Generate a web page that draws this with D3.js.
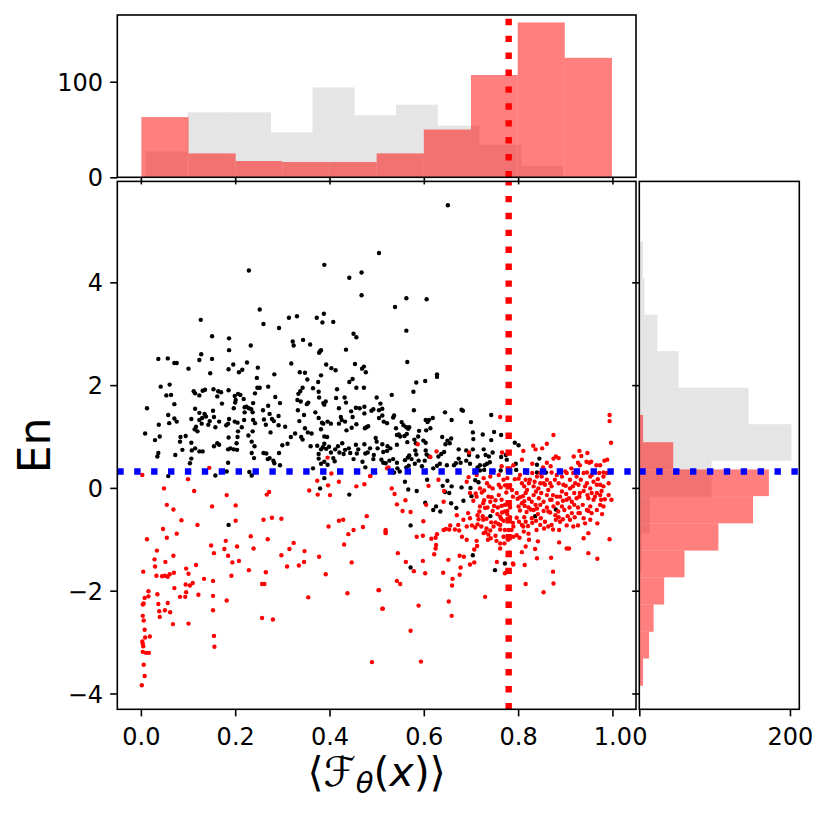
<!DOCTYPE html>
<html><head><meta charset="utf-8">
<script src="https://cdn.jsdelivr.net/npm/d3@7"></script>
<style>body{margin:0;background:#fff}svg{display:block}text{font-family:"DejaVu Sans",sans-serif}</style>
</head><body><svg id="c" width="830" height="816"></svg>
<script>
// ---------- data ----------
const blackPoints = [
[0.505,4.57],[0.389,4.34],[0.468,4.19],[0.442,4.09],[0.229,4.23],[0.468,3.75],[0.252,3.47],[0.127,3.27],[0.260,3.19],[0.293,3.11],[0.314,3.31],[0.331,3.34],[0.373,3.31],[0.388,3.39],[0.385,3.22],[0.408,3.23],[0.451,3.00],[0.457,2.93],[0.151,2.95],[0.187,2.91],[0.233,2.77],[0.322,2.85],[0.324,2.77],[0.344,2.88],[0.359,2.79],[0.435,2.69],[0.187,2.68],[0.380,2.66],[0.382,2.68],[0.378,2.63],[0.037,2.51],[0.057,2.52],[0.071,2.43],[0.076,2.43],[0.128,2.60],[0.124,2.49],[0.151,2.51],[0.101,2.32],[0.186,2.31],[0.196,2.40],[0.208,2.25],[0.215,2.30],[0.225,2.44],[0.248,2.34],[0.319,2.42],[0.393,2.40],[0.404,2.33],[0.413,2.29],[0.454,2.41],[0.469,2.32],[0.473,2.36],[0.477,2.25],[0.283,2.21],[0.337,2.25],[0.348,2.24],[0.353,2.11],[0.382,2.19],[0.246,2.14],[0.147,2.23],[0.042,1.97],[0.061,2.01],[0.064,1.81],[0.071,1.63],[0.112,1.88],[0.115,1.84],[0.124,1.80],[0.131,1.89],[0.136,1.91],[0.154,1.92],[0.164,1.88],[0.170,1.86],[0.162,1.78],[0.186,1.90],[0.199,1.79],[0.206,1.83],[0.211,1.81],[0.201,1.71],[0.200,1.66],[0.218,1.73],[0.220,1.57],[0.242,1.84],[0.247,1.95],[0.252,1.95],[0.270,1.97],[0.285,1.77],[0.295,1.65],[0.334,1.83],[0.338,1.88],[0.343,1.95],[0.365,1.94],[0.355,1.66],[0.352,1.63],[0.332,1.71],[0.339,1.68],[0.333,1.51],[0.376,2.06],[0.377,1.87],[0.378,1.76],[0.387,1.65],[0.389,1.62],[0.392,1.68],[0.416,1.92],[0.414,1.75],[0.435,1.66],[0.432,1.76],[0.442,2.06],[0.449,2.12],[0.457,1.95],[0.473,1.95],[0.500,1.76],[0.508,1.64],[0.013,1.55],[0.058,1.42],[0.071,1.35],[0.076,1.29],[0.060,1.26],[0.038,1.23],[0.054,1.80],[0.107,1.34],[0.115,1.54],[0.124,1.46],[0.124,1.32],[0.130,1.36],[0.135,1.44],[0.138,1.39],[0.129,1.25],[0.117,1.19],[0.114,1.14],[0.120,1.10],[0.143,1.23],[0.146,1.30],[0.153,1.50],[0.155,1.38],[0.158,1.18],[0.166,1.29],[0.172,1.64],[0.181,1.22],[0.187,1.34],[0.185,1.25],[0.197,1.55],[0.199,1.29],[0.205,1.27],[0.219,1.32],[0.214,1.18],[0.220,1.47],[0.224,1.58],[0.229,1.55],[0.234,1.53],[0.238,1.65],[0.237,1.47],[0.238,1.32],[0.242,1.26],[0.237,1.10],[0.259,1.51],[0.261,1.33],[0.265,1.23],[0.270,1.60],[0.273,1.44],[0.278,1.34],[0.275,1.08],[0.282,1.30],[0.292,1.40],[0.292,1.22],[0.306,1.19],[0.318,0.99],[0.327,1.06],[0.336,1.30],[0.346,1.42],[0.348,1.16],[0.354,1.08],[0.362,1.06],[0.340,0.99],[0.343,0.94],[0.370,1.47],[0.377,1.36],[0.384,1.27],[0.387,1.25],[0.396,1.29],[0.403,1.25],[0.382,1.14],[0.389,1.00],[0.395,0.99],[0.389,0.86],[0.420,1.55],[0.424,1.38],[0.426,1.32],[0.433,1.29],[0.436,1.12],[0.420,1.25],[0.446,1.49],[0.449,1.38],[0.456,1.56],[0.464,1.55],[0.474,1.58],[0.474,1.45],[0.447,1.17],[0.457,1.24],[0.475,1.16],[0.478,1.18],[0.482,1.20],[0.489,1.50],[0.493,1.53],[0.505,1.51],[0.505,1.36],[0.512,1.41],[0.515,1.29],[0.522,1.26],[0.009,1.06],[0.030,0.93],[0.040,1.00],[0.084,0.99],[0.083,0.90],[0.095,1.01],[0.088,0.74],[0.107,0.88],[0.108,0.73],[0.115,0.77],[0.124,0.71],[0.131,0.71],[0.107,0.57],[0.104,0.48],[0.073,0.64],[0.037,0.68],[0.035,0.61],[0.155,0.81],[0.162,0.87],[0.166,0.84],[0.186,0.98],[0.185,0.75],[0.205,0.99],[0.206,1.10],[0.203,0.87],[0.190,0.77],[0.197,0.75],[0.204,0.74],[0.228,1.02],[0.235,0.90],[0.241,0.81],[0.235,0.68],[0.240,0.58],[0.260,0.68],[0.266,0.67],[0.269,0.56],[0.273,0.58],[0.281,0.53],[0.283,0.48],[0.293,0.68],[0.300,0.83],[0.311,0.86],[0.185,0.49],[0.295,0.44],[0.360,0.81],[0.374,0.82],[0.377,0.66],[0.382,0.75],[0.386,0.79],[0.393,0.76],[0.399,0.80],[0.403,0.69],[0.377,0.57],[0.382,0.47],[0.389,0.51],[0.396,0.45],[0.408,0.58],[0.411,0.52],[0.412,0.75],[0.418,0.81],[0.421,0.69],[0.430,0.66],[0.427,0.87],[0.433,0.74],[0.441,0.77],[0.444,0.68],[0.451,0.56],[0.456,0.84],[0.458,0.67],[0.461,0.75],[0.474,0.85],[0.476,0.67],[0.470,0.51],[0.481,0.69],[0.486,0.77],[0.494,0.64],[0.498,0.97],[0.500,0.90],[0.502,0.77],[0.512,0.85],[0.514,0.70],[0.493,0.56],[0.510,0.55],[0.514,0.49],[0.519,0.48],[0.476,0.40],
[0.058,0.23],[0.158,0.24],[0.235,0.24],[0.182,0.32],[0.230,0.31],[0.389,0.19],[0.380,-0.01],[0.442,-0.13],[0.186,-0.72],[0.365,0.38],
[0.651,5.50],[0.563,3.69],[0.606,3.67],[0.539,3.52],[0.563,3.06],[0.565,2.45],[0.584,2.05],[0.603,2.08],[0.628,2.21],[0.628,2.16],[0.578,1.87],[0.532,1.81],[0.512,1.54],[0.535,1.37],[0.537,1.41],[0.541,1.16],[0.543,1.03],[0.547,1.04],[0.550,1.00],[0.543,0.84],[0.553,1.28],[0.557,1.22],[0.563,1.18],[0.569,1.18],[0.567,1.15],[0.579,1.51],[0.564,1.05],[0.565,0.89],[0.559,1.01],[0.590,1.11],[0.588,1.00],[0.580,0.94],[0.583,0.87],[0.599,0.92],[0.604,0.88],[0.604,1.32],[0.611,1.32],[0.619,1.36],[0.614,1.16],[0.608,1.28],[0.605,1.12],[0.645,1.47],[0.659,1.32],[0.680,1.52],[0.683,1.50],[0.700,1.28],[0.704,1.08],[0.705,0.95],[0.725,1.04],[0.743,1.42],[0.749,1.09],[0.743,0.93],[0.764,1.03],[0.639,0.99],[0.650,0.92],[0.658,0.96],[0.655,0.87],[0.646,0.85],[0.529,0.77],[0.522,0.72],[0.523,0.81],[0.527,0.53],[0.535,0.56],[0.560,0.54],[0.569,0.63],[0.566,0.59],[0.574,0.56],[0.582,0.73],[0.584,0.65],[0.589,0.53],[0.581,0.47],[0.604,0.73],[0.606,0.65],[0.611,0.61],[0.602,0.53],[0.631,0.61],[0.637,0.66],[0.643,0.70],[0.634,0.47],[0.620,0.38],[0.628,0.43],[0.664,0.44],[0.668,0.48],[0.674,0.75],[0.674,0.57],[0.678,0.49],[0.690,0.73],[0.696,0.64],[0.690,0.53],[0.698,0.47],[0.704,0.75],[0.714,0.61],[0.727,0.75],[0.731,0.64],[0.738,0.61],[0.734,0.47],[0.740,0.50],[0.729,0.44],[0.746,0.69],[0.764,0.60],[0.774,0.64],[0.776,0.55],[0.793,0.88],[0.801,0.83],[0.795,0.47],[0.845,0.57],[0.543,0.49],[0.544,0.38],[0.563,0.40],[0.568,0.43],[0.596,0.42],[0.714,0.40],[0.719,0.44],[0.649,0.44],[0.840,0.45],
[0.560,0.12],[0.567,-0.03],[0.585,-0.06],[0.603,-0.29],[0.607,0.16],[0.620,-0.43],[0.635,-0.46],[0.626,-0.36],[0.640,0.04],[0.645,-0.08],[0.650,0.14],[0.659,0.03],[0.654,-0.10],[0.658,-0.30],[0.669,-0.39],[0.680,0.01],[0.684,-0.25],[0.699,0.00],[0.701,-0.16],[0.709,0.15],[0.716,0.11],[0.572,-0.73],[0.572,-1.55],[0.704,-1.31],[0.751,-1.60],[0.772,-1.47],[0.741,-0.55],[0.836,-0.55],[0.880,-0.42],[0.796,0.35],[0.815,0.34],[0.840,0.30],[0.859,0.30],[0.763,0.34],[0.748,0.33],[0.719,0.34],[0.728,0.35],[0.495,0.32],[0.549,0.32],[0.537,0.30]
];
const redPoints = [
[0.396,0.59],[0.145,0.39],
[0.003,0.25],[0.100,0.17],[0.049,-0.01],[0.113,-0.06],[0.182,-0.14],[0.267,-0.13],[0.272,-0.08],[0.055,-0.33],[0.069,-0.42],[0.151,-0.36],[0.201,-0.34],[0.086,-0.63],[0.120,-0.72],[0.201,-0.64],[0.260,-0.62],[0.278,-0.58],[0.298,-0.60],[0.047,-0.80],[0.055,-0.97],[0.076,-0.89],[0.013,-1.00],[0.149,-1.12],[0.180,-1.03],[0.177,-1.19],[0.204,-1.14],[0.155,-1.27],[0.185,-1.32],[0.194,-1.45],[0.208,-1.42],[0.233,-0.94],[0.239,-1.18],[0.269,-1.00],[0.324,-1.07],[0.315,-1.19],[0.298,-1.31],[0.347,-1.23],[0.346,-1.44],[0.335,-1.51],[0.310,-1.53],[0.378,-1.34],[0.392,-1.68],[0.229,-1.60],[0.265,-1.64],[0.192,-1.71],[0.257,-1.87],[0.262,-1.87],[0.355,-2.13],[0.257,-2.53],[0.280,-2.56],[0.034,-1.22],[0.029,-1.39],[0.052,-1.44],[0.030,-1.53],[0.069,-1.32],[0.033,-1.71],[0.045,-1.72],[0.051,-1.71],[0.057,-1.73],[0.061,-1.68],[0.070,-1.65],[0.005,-1.63],[0.096,-1.57],[0.101,-1.67],[0.117,-1.50],[0.134,-1.77],[0.153,-1.81],[0.095,-1.88],[0.104,-1.90],[0.110,-1.85],[0.071,-1.95],[0.016,-2.01],[0.016,-2.11],[0.008,-2.14],[0.006,-2.25],[0.004,-2.27],[0.035,-2.07],[0.083,-2.12],[0.094,-2.12],[0.122,-2.08],[0.096,-2.03],[0.153,-2.10],[0.182,-2.19],[0.037,-2.26],[0.057,-2.24],[0.039,-2.40],[0.051,-2.38],[0.062,-2.42],[0.040,-2.51],[0.004,-2.49],[0.006,-2.58],[0.153,-2.38],[0.008,-2.76],[0.068,-2.65],[0.101,-2.64],[0.009,-2.91],[0.019,-2.89],[0.003,-2.99],[0.004,-3.03],[0.005,-3.08],[0.004,-3.19],[0.011,-3.21],[0.017,-3.21],[0.155,-2.88],[0.156,-3.09],[0.006,-3.44],[0.008,-3.66],[0.002,-3.84],[0.490,-3.39],[0.374,0.14],[0.357,-0.05],[0.375,-0.13],[0.397,0.05],[0.401,-0.14],[0.404,0.28],[0.420,0.12],[0.457,0.03],[0.474,0.07],[0.487,0.23],[0.479,-0.55],[0.420,-0.64],[0.429,-0.62],[0.398,-0.75],[0.440,-0.90],[0.451,-0.82],[0.471,-0.76],[0.431,-1.10],[0.447,-1.45],[0.438,-2.05],[0.504,-1.99],[0.512,-2.35],[0.519,-0.85],[0.522,0.38],
[0.762,1.38],[0.587,0.85],[0.627,0.71],[0.614,0.60],[0.696,0.69],[0.766,0.69],[0.525,0.40],[0.790,0.44],[0.811,0.72],[0.808,0.55],[0.832,0.82],[0.837,0.75],[0.851,0.77],[0.861,0.86],[0.875,1.03],[0.875,0.57],[0.880,0.61],[0.886,0.58],[0.830,0.47],[0.861,0.49],[0.918,0.61],[0.930,0.72],[0.934,0.62],[0.947,0.68],[0.927,0.49],[0.931,0.44],[0.945,0.51],[0.951,0.49],[0.955,0.51],[0.966,0.44],[0.974,0.44],[0.983,0.53],[0.989,0.55],[0.994,1.42],[0.994,1.30],[0.997,0.88],[0.913,0.38],[0.853,0.40],[0.869,0.42],[0.765,0.42],
[0.486,0.23],[0.532,-0.01],[0.538,-0.12],[0.543,-0.32],[0.555,-0.45],[0.561,-0.24],[0.572,-0.47],[0.610,0.04],[0.605,-0.33],[0.599,-0.65],[0.631,0.16],[0.643,-0.06],[0.642,-0.27],[0.642,-0.82],[0.654,-0.81],[0.656,-0.73],[0.647,-0.80],[0.628,-0.90],[0.625,-0.97],[0.616,-0.99],[0.585,-0.95],[0.598,-0.93],[0.519,-0.82],[0.519,-0.88],[0.545,-1.27],[0.562,-1.44],[0.598,-1.42],[0.579,-1.62],[0.603,-1.66],[0.543,-1.81],[0.550,-1.87],[0.626,-1.11],[0.625,-1.18],[0.622,-1.29],[0.641,-1.65],[0.652,-1.40],[0.666,-0.81],[0.675,-0.83],[0.681,-0.95],[0.691,-1.01],[0.676,-1.32],[0.685,-1.34],[0.678,-1.55],[0.676,-1.69],[0.661,-1.77],[0.660,-1.90],[0.698,-1.49],[0.707,-1.45],[0.505,-1.99],[0.513,-2.35],[0.589,-2.29],[0.653,-2.21],[0.659,-2.49],[0.572,-2.78],[0.594,-3.38],[0.730,-2.12],
[0.695,0.21],[0.691,0.12],[0.698,-0.10],[0.705,-0.25],[0.710,-0.11],[0.723,-0.09],[0.728,-0.05],[0.728,-0.24],[0.726,-0.30],[0.719,-0.36],[0.730,-0.39],[0.735,-0.38],[0.718,-0.46],[0.714,-0.53],[0.716,-0.61],[0.725,-0.55],[0.733,-0.60],[0.714,-0.71],[0.702,-0.73],[0.709,-0.77],[0.722,-0.75],[0.733,-0.79],[0.731,-0.86],[0.737,-0.91],[0.727,-0.88],[0.712,-1.03],[0.713,-1.13],[0.707,-1.20],[0.736,-1.01],[0.742,-0.98],[0.752,-0.93],[0.754,-1.03],[0.744,-0.18],[0.752,-0.24],[0.749,-0.35],[0.757,-0.38],[0.739,0.03],[0.746,-0.01],[0.759,0.06],[0.763,0.01],[0.746,-0.45],[0.756,-0.51],[0.762,-0.56],[0.766,-0.48],[0.743,-0.67],[0.752,-0.67],[0.758,-0.70],[0.764,-0.60],[0.769,-0.64],[0.778,-0.60],[0.762,-0.81],[0.772,-0.82],[0.780,-0.82],[0.762,-1.08],[0.771,-1.08],[0.762,-1.18],[0.765,-0.35],[0.772,-0.33],[0.783,-0.38],[0.775,-0.09],[0.787,-0.04],[0.789,-0.17],[0.777,0.19],[0.772,0.05],[0.783,0.05],[0.793,0.17],[0.772,-1.66],[0.777,-1.60],[0.789,-1.47],[0.782,-1.26],[0.777,-0.45],[0.777,-0.51],[0.783,-0.57],[0.789,-0.68],[0.790,-0.75],[0.755,-1.44],[0.741,-0.83],
[0.801,0.18],[0.816,0.16],[0.823,0.09],[0.813,0.03],[0.819,-0.04],[0.816,-0.10],[0.804,-0.18],[0.799,-0.21],[0.813,-0.26],[0.823,-0.21],[0.829,-0.27],[0.801,-0.36],[0.814,-0.35],[0.804,-0.44],[0.818,-0.47],[0.827,-0.42],[0.813,-0.57],[0.797,-0.58],[0.802,-0.66],[0.816,-0.66],[0.811,-0.75],[0.821,-0.74],[0.830,-0.68],[0.812,-0.85],[0.822,-0.89],[0.797,-0.92],[0.803,-0.97],[0.808,-1.25],[0.816,-1.14],[0.823,-1.01],[0.836,-1.19],[0.842,-1.04],[0.814,-1.50],[0.816,-1.87],[0.790,-1.49],[0.840,-1.37],[0.854,-2.03],[0.874,-1.63],[0.875,-1.86],[0.870,-1.36],[0.830,0.29],[0.840,0.22],[0.835,0.12],[0.833,0.03],[0.847,0.09],[0.838,-0.07],[0.849,-0.10],[0.844,-0.20],[0.854,-0.27],[0.837,-0.33],[0.833,-0.43],[0.842,-0.51],[0.854,-0.45],[0.861,-0.38],[0.848,-0.59],[0.838,-0.64],[0.847,-0.72],[0.855,-0.79],[0.839,-0.82],[0.864,-0.75],[0.850,0.22],[0.861,0.16],[0.857,0.06],[0.868,0.09],[0.864,-0.04],[0.878,0.16],[0.874,-0.14],[0.882,-0.17],[0.871,-0.23],[0.884,-0.30],[0.875,-0.36],[0.868,-0.48],[0.879,-0.53],[0.885,-0.46],[0.886,-0.57],[0.880,-0.62],[0.889,-0.66],[0.874,-0.81],[0.887,-0.82],[0.887,-1.06],[0.903,-1.18],[0.908,-1.18],[0.898,-0.43],[0.905,-0.55],[0.903,-0.73],[0.893,-0.07],[0.902,-0.12],[0.908,-0.20],[0.895,-0.25],[0.914,-0.27],[0.893,0.22],[0.903,0.29],[0.910,0.16],[0.901,0.04],[0.916,0.03],[0.924,0.22],[0.933,0.16],[0.939,0.29],[0.928,0.06],[0.946,0.09],[0.953,0.22],[0.960,0.12],[0.919,-0.10],[0.930,-0.17],[0.939,-0.06],[0.947,-0.14],[0.956,-0.10],[0.967,-0.10],[0.919,-0.33],[0.927,-0.38],[0.937,-0.33],[0.946,-0.43],[0.953,-0.36],[0.960,-0.23],[0.920,-0.57],[0.931,-0.49],[0.939,-0.59],[0.949,-0.45],[0.939,-0.98],[0.949,-0.88],[0.927,-0.73],[0.949,-1.27],[0.968,-1.38],[0.978,-0.51],[0.968,-0.69],[0.974,0.06],[0.969,0.17],[0.977,-0.06],[0.984,-0.22],[0.976,-0.23],[0.998,-0.23],[0.972,0.29],[0.981,0.30],[0.988,0.29],[0.995,0.30],[0.994,-1.00],
[0.804,0.25],[0.818,0.30],[0.847,0.29],[0.871,0.30],[0.882,0.25],[0.900,0.32],[0.917,0.29],[0.946,0.30],[0.956,0.25],[0.981,0.22],[0.808,0.09],[0.825,0.16],[0.843,-0.01],[0.854,0.09],[0.871,0.03],[0.886,0.09],[0.896,0.06],[0.910,-0.01],[0.921,0.09],[0.942,0.03],[0.953,-0.01],[0.967,0.06],[0.981,0.03],[0.992,0.09],[0.797,-0.10],[0.810,-0.16],[0.833,-0.14],[0.861,-0.14],[0.868,-0.23],[0.889,-0.17],[0.903,-0.23],[0.924,-0.20],[0.931,-0.10],[0.949,-0.20],[0.963,-0.17],[0.974,-0.14],[0.992,-0.14],[0.808,-0.30],[0.822,-0.38],[0.840,-0.40],[0.847,-0.33],[0.864,-0.46],[0.893,-0.36],[0.909,-0.38],[0.914,-0.49],[0.928,-0.49],[0.956,-0.49],[0.967,-0.43],[0.981,-0.36],[0.974,-0.33],[0.808,-0.72],[0.829,-0.59],[0.857,-0.66],[0.871,-0.72],[0.895,-0.61],[0.910,-0.62],[0.917,-0.75],[0.942,-0.69],[0.953,-0.62],[0.712,0.25],[0.727,0.19],[0.741,0.22],[0.759,0.25],[0.769,0.16],[0.734,0.09],[0.719,-0.01],[0.712,-0.17],[0.737,-0.17],[0.759,-0.14],[0.765,-0.23],[0.741,-0.27],[0.772,-0.46],[0.762,-0.72],[0.748,-0.75],[0.726,-0.62],[0.786,-0.82],[0.790,-0.95],[0.779,-1.01],[0.769,-0.95],[0.670,-0.53],[0.684,-0.62],[0.694,-0.49],[0.673,-0.72],[0.691,-0.75],[0.698,-0.59]
];
// top histogram (x of points)
const topGrayEdges  = [0.010,0.099,0.187,0.276,0.364,0.453,0.541,0.630,0.718,0.807,0.895];
const topGrayCounts = [27,68,68,47,94,65,76,54,34,12];
const topRedEdges   = [0.001,0.101,0.201,0.300,0.400,0.500,0.600,0.700,0.799,0.899,0.999];
const topRedCounts  = [63,25,17,16,16,25,50,107,162,125];
// right histogram (En of points)
const rightGrayEdges  = [-1.60,-0.89,-0.18,0.53,1.24,1.95,2.66,3.37,4.08,4.79,5.50];
const rightGrayCounts = [3,14,96,202,145,52,24,7,5,1];
const rightRedEdges   = [-3.85,-3.32,-2.80,-2.27,-1.74,-1.22,-0.69,-0.16,0.36,0.89,1.42];
const rightRedCounts  = [5,13,19,33,60,105,151,172,45,5];
// reference lines and ticks
const fidelityThreshold = 0.78;
const energyThreshold = 0.32;
const xTicks = [0.0,0.2,0.4,0.6,0.8,1.0];
const yTicks = [-4,-2,0,2,4];
const topHistTicks = [0,100];
const rightHistTicks = [0,200];

// ---------- layout ----------
const svg = d3.select("#c");
const M = {l:117.3, r:636, t:181.4, b:709.3};
const T = {t:15, b:177.3};
const R = {l:639.3, r:799.3};
const x = d3.scaleLinear().domain([-0.05,1.05]).range([M.l,M.r]);
const y = d3.scaleLinear().domain([-4.308,5.964]).range([M.b,M.t]);
const yTop = d3.scaleLinear().domain([0,169.8]).range([T.b,T.t]);
const xRight = d3.scaleLinear().domain([0,212.4]).range([R.l,R.r]);
const TL = 7.1, PAD = 7.1, FS = 24, LW = 1.6, DOT = 2.2;
const GRAY = "#d3d3d3";

const defs = svg.append("defs");
defs.append("clipPath").attr("id","cm").append("rect").attr("x",M.l).attr("y",M.t).attr("width",M.r-M.l).attr("height",M.b-M.t);
defs.append("clipPath").attr("id","ct").append("rect").attr("x",M.l).attr("y",T.t).attr("width",M.r-M.l).attr("height",T.b-T.t);
defs.append("clipPath").attr("id","cr").append("rect").attr("x",R.l).attr("y",M.t).attr("width",R.r-R.l).attr("height",M.b-M.t);

function bins(edges,counts){return counts.map((c,i)=>({a:edges[i],b:edges[i+1],c}));}

// ---------- top histogram ----------
const gT = svg.append("g").attr("clip-path","url(#ct)");
gT.selectAll("rect.g").data(bins(topGrayEdges,topGrayCounts)).join("rect")
  .attr("x",d=>x(d.a)).attr("width",d=>x(d.b)-x(d.a)).attr("y",d=>yTop(d.c)).attr("height",d=>yTop(0)-yTop(d.c))
  .attr("fill",GRAY).attr("fill-opacity",0.6);
gT.selectAll("rect.r").data(bins(topRedEdges,topRedCounts)).join("rect")
  .attr("x",d=>x(d.a)).attr("width",d=>x(d.b)-x(d.a)).attr("y",d=>yTop(d.c)).attr("height",d=>yTop(0)-yTop(d.c))
  .attr("fill","red").attr("fill-opacity",0.5);
gT.append("line").attr("x1",x(fidelityThreshold)).attr("x2",x(fidelityThreshold)).attr("y1",T.b).attr("y2",T.t)
  .attr("stroke","red").attr("stroke-width",6.4).attr("stroke-dasharray","6.4,10.5");

// ---------- right histogram ----------
const gR = svg.append("g").attr("clip-path","url(#cr)");
gR.selectAll("rect.g").data(bins(rightGrayEdges,rightGrayCounts)).join("rect")
  .attr("y",d=>y(d.b)).attr("height",d=>y(d.a)-y(d.b)).attr("x",xRight(0)).attr("width",d=>xRight(d.c)-xRight(0))
  .attr("fill",GRAY).attr("fill-opacity",0.6);
gR.selectAll("rect.r").data(bins(rightRedEdges,rightRedCounts)).join("rect")
  .attr("y",d=>y(d.b)).attr("height",d=>y(d.a)-y(d.b)).attr("x",xRight(0)).attr("width",d=>xRight(d.c)-xRight(0))
  .attr("fill","red").attr("fill-opacity",0.5);
gR.append("line").attr("x1",R.l).attr("x2",R.r).attr("y1",y(energyThreshold)).attr("y2",y(energyThreshold))
  .attr("stroke","blue").attr("stroke-width",6.4).attr("stroke-dasharray","6.4,10.5");

// ---------- main scatter ----------
const gM = svg.append("g").attr("clip-path","url(#cm)");
gM.selectAll("circle.k").data(blackPoints).join("circle")
  .attr("cx",d=>x(d[0])).attr("cy",d=>y(d[1])).attr("r",DOT).attr("fill","black");
gM.selectAll("circle.r").data(redPoints).join("circle")
  .attr("cx",d=>x(d[0])).attr("cy",d=>y(d[1])).attr("r",DOT).attr("fill","red");
gM.append("line").attr("x1",x(fidelityThreshold)).attr("x2",x(fidelityThreshold)).attr("y1",M.b).attr("y2",M.t)
  .attr("stroke","red").attr("stroke-width",6.4).attr("stroke-dasharray","6.4,10.5");
gM.append("line").attr("x1",M.l).attr("x2",M.r).attr("y1",y(energyThreshold)).attr("y2",y(energyThreshold))
  .attr("stroke","blue").attr("stroke-width",6.4).attr("stroke-dasharray","6.4,10.5");

// ---------- axes ----------
function styleAxis(g, dy){
  g.select(".domain").remove();
  g.selectAll(".tick line").attr("stroke","black").attr("stroke-width",LW);
  g.selectAll(".tick text").attr("font-family","DejaVu Sans").attr("font-size",FS).attr("fill","black");
  if(dy!==undefined) g.selectAll(".tick text").attr("dy",dy);
}
styleAxis(svg.append("g").attr("transform",`translate(0,${M.b})`)
  .call(d3.axisBottom(x).tickValues(xTicks).tickFormat(d3.format(".1f")).tickSize(TL).tickPadding(PAD)),"0.9em");
styleAxis(svg.append("g").attr("transform",`translate(${M.l},0)`)
  .call(d3.axisLeft(y).tickValues(yTicks).tickFormat(d3.format("d")).tickSize(TL).tickPadding(PAD)),"0.36em");
styleAxis(svg.append("g").attr("transform",`translate(${M.l},0)`)
  .call(d3.axisLeft(yTop).tickValues(topHistTicks).tickFormat(d3.format("d")).tickSize(TL).tickPadding(PAD)),"0.36em");
styleAxis(svg.append("g").attr("transform",`translate(0,${T.b})`)
  .call(d3.axisBottom(x).tickValues(xTicks).tickFormat("").tickSize(TL)));
styleAxis(svg.append("g").attr("transform",`translate(0,${M.b})`)
  .call(d3.axisBottom(xRight).tickValues(rightHistTicks).tickFormat(d3.format("d")).tickSize(TL).tickPadding(PAD)),"0.9em");
styleAxis(svg.append("g").attr("transform",`translate(${R.l},0)`)
  .call(d3.axisLeft(y).tickValues(yTicks).tickFormat("").tickSize(TL)));

// frames
[[M.l,T.t,M.r,T.b],[M.l,M.t,M.r,M.b],[R.l,M.t,R.r,M.b]].forEach(f=>{
  svg.append("rect").attr("x",f[0]).attr("y",f[1]).attr("width",f[2]-f[0]).attr("height",f[3]-f[1])
    .attr("fill","none").attr("stroke","black").attr("stroke-width",LW);
});

// labels
svg.append("text").attr("transform",`translate(49.5,${(M.t+M.b)/2}) rotate(-90)`)
  .attr("text-anchor","middle").attr("font-size",44).attr("fill","black").text("En");
const xl = svg.append("text").attr("x",(M.l+M.r)/2).attr("y",786).attr("text-anchor","middle")
  .attr("font-size",41).attr("fill","black");
xl.append("tspan").text("\u27E8");
xl.append("tspan").attr("font-style","italic").text("\u2131");
xl.append("tspan").attr("font-style","italic").attr("font-size",29).attr("dy",7).text("\u03B8");
xl.append("tspan").attr("dy",-7).text("(");
xl.append("tspan").attr("font-style","italic").text("x");
xl.append("tspan").text(")\u27E9");
</script></body></html>
